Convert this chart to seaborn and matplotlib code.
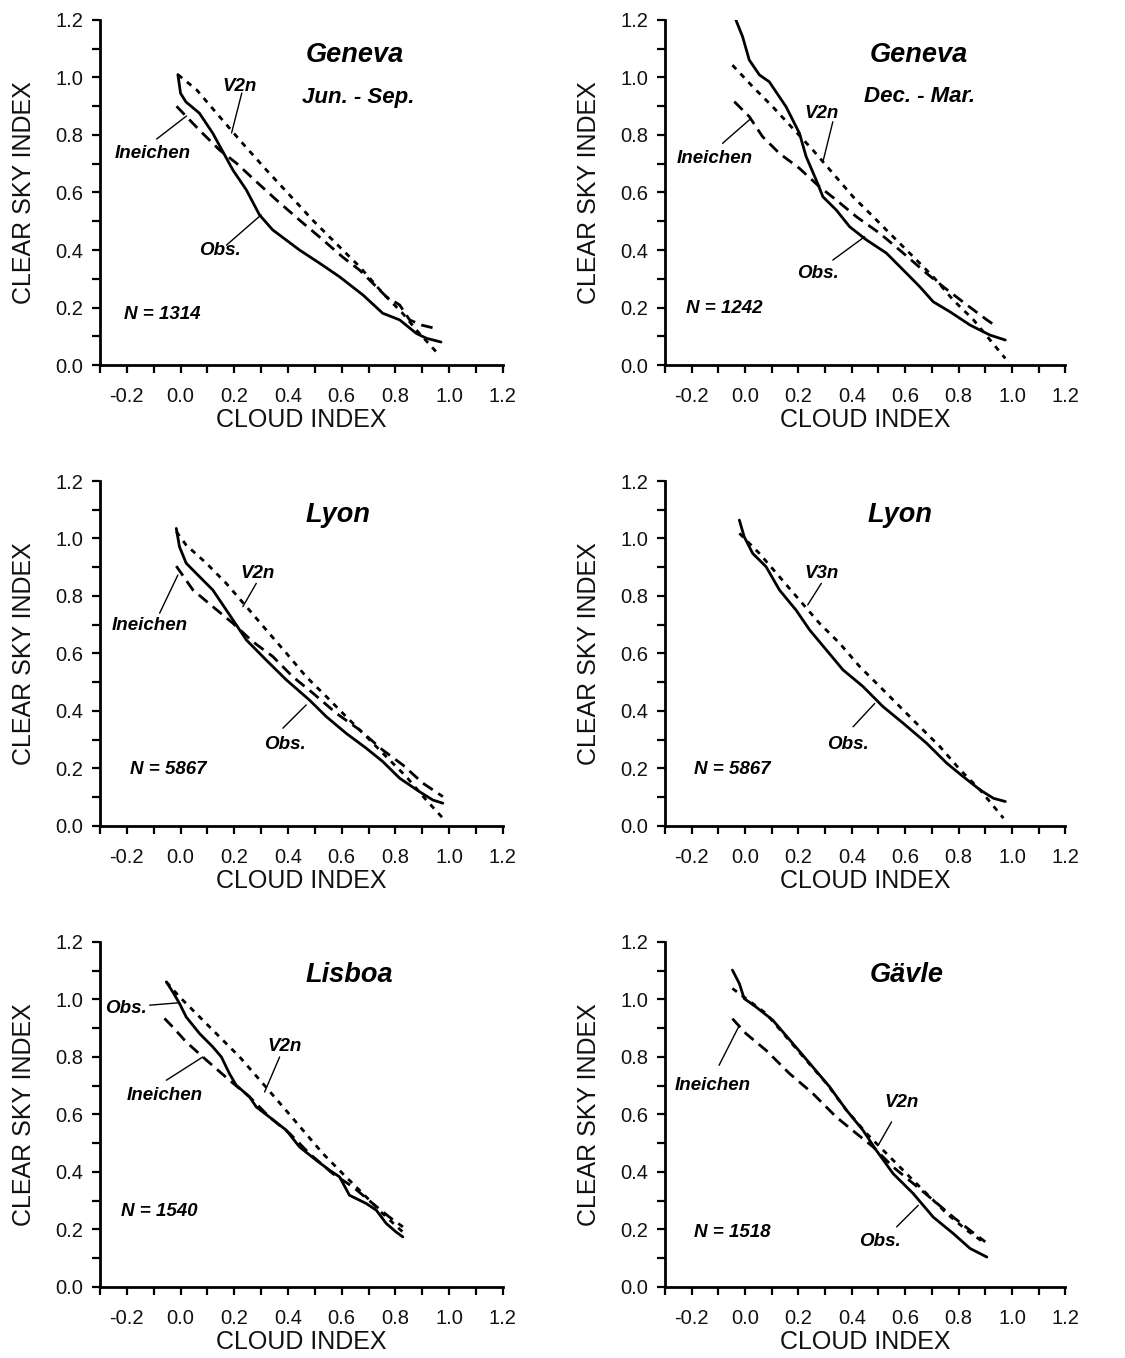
import numpy as np
import pandas as pd
import matplotlib
matplotlib.use("Agg")
import matplotlib.pyplot as plt
from matplotlib.ticker import MultipleLocator, FormatStrFormatter
import seaborn as sns

# ---------------- data ----------------
# Panel 1: Geneva Jun.-Sep.
gj_obs_x = [-0.01, 0.0, 0.02, 0.07, 0.12, 0.195, 0.245, 0.294, 0.343, 0.443, 0.518, 0.592, 0.68, 0.753, 0.816, 0.878, 0.916, 0.97]
gj_obs_y = [1.01, 0.945, 0.915, 0.876, 0.806, 0.678, 0.609, 0.522, 0.47, 0.40, 0.354, 0.307, 0.243, 0.18, 0.157, 0.11, 0.093, 0.08]
gj_ine_x = [-0.015, 0.07, 0.145, 0.208, 0.283, 0.357, 0.443, 0.518, 0.603, 0.667, 0.767, 0.816, 0.853, 0.897, 0.946]
gj_ine_y = [0.90, 0.817, 0.748, 0.702, 0.637, 0.574, 0.504, 0.445, 0.376, 0.33, 0.237, 0.209, 0.157, 0.139, 0.128]
gj_mod_x = [-0.01, 0.06, 0.145, 0.231, 0.32, 0.417, 0.492, 0.566, 0.667, 0.753, 0.827, 0.878, 0.953]
gj_mod_y = [1.01, 0.957, 0.864, 0.771, 0.678, 0.58, 0.504, 0.435, 0.342, 0.25, 0.18, 0.122, 0.045]

# Panel 2: Geneva Dec.-Mar.
gd_obs_x = [-0.034, -0.009, 0.016, 0.054, 0.091, 0.154, 0.204, 0.229, 0.267, 0.292, 0.342, 0.392, 0.455, 0.53, 0.605, 0.655, 0.705, 0.768, 0.843, 0.918, 0.975]
gd_obs_y = [1.20, 1.142, 1.061, 1.009, 0.985, 0.898, 0.806, 0.725, 0.643, 0.585, 0.539, 0.481, 0.435, 0.389, 0.319, 0.272, 0.22, 0.185, 0.139, 0.104, 0.087]
gd_ine_x = [-0.04, 0.016, 0.066, 0.129, 0.204, 0.279, 0.342, 0.417, 0.505, 0.593, 0.68, 0.743, 0.831, 0.906, 0.944]
gd_ine_y = [0.916, 0.864, 0.794, 0.736, 0.684, 0.62, 0.574, 0.516, 0.458, 0.389, 0.319, 0.272, 0.209, 0.157, 0.133]
gd_mod_x = [-0.047, 0.029, 0.104, 0.179, 0.254, 0.329, 0.405, 0.48, 0.555, 0.63, 0.705, 0.78, 0.856, 0.918, 0.975]
gd_mod_y = [1.043, 0.968, 0.898, 0.823, 0.748, 0.667, 0.585, 0.516, 0.446, 0.377, 0.307, 0.226, 0.157, 0.087, 0.023]

# Panel 3: Lyon (V2n)
l2_obs_x = [-0.016, -0.004, 0.021, 0.058, 0.12, 0.195, 0.245, 0.319, 0.394, 0.48, 0.543, 0.617, 0.692, 0.753, 0.816, 0.89, 0.94, 0.977]
l2_obs_y = [1.035, 0.971, 0.914, 0.879, 0.821, 0.717, 0.647, 0.577, 0.508, 0.438, 0.38, 0.322, 0.27, 0.224, 0.166, 0.119, 0.09, 0.079]
l2_ine_x = [-0.016, 0.046, 0.12, 0.195, 0.269, 0.344, 0.418, 0.493, 0.58, 0.667, 0.753, 0.828, 0.902, 0.977]
l2_ine_y = [0.904, 0.821, 0.763, 0.705, 0.641, 0.589, 0.519, 0.462, 0.392, 0.334, 0.264, 0.212, 0.149, 0.102]
l2_mod_x = [-0.016, 0.021, 0.096, 0.17, 0.245, 0.319, 0.394, 0.468, 0.543, 0.617, 0.692, 0.766, 0.841, 0.915, 0.977]
l2_mod_y = [1.024, 0.977, 0.914, 0.844, 0.763, 0.682, 0.601, 0.519, 0.45, 0.38, 0.311, 0.241, 0.171, 0.09, 0.027]

# Panel 4: Lyon (V3n)
l3_obs_x = [-0.021, -0.003, 0.029, 0.079, 0.129, 0.192, 0.242, 0.305, 0.367, 0.442, 0.517, 0.593, 0.68, 0.756, 0.818, 0.881, 0.931, 0.975]
l3_obs_y = [1.064, 1.006, 0.948, 0.902, 0.821, 0.75, 0.682, 0.612, 0.543, 0.485, 0.415, 0.357, 0.288, 0.218, 0.171, 0.125, 0.096, 0.085]
l3_mod_x = [-0.021, 0.054, 0.129, 0.204, 0.279, 0.355, 0.43, 0.505, 0.58, 0.655, 0.73, 0.806, 0.881, 0.968]
l3_mod_y = [1.018, 0.948, 0.867, 0.786, 0.705, 0.635, 0.554, 0.485, 0.415, 0.345, 0.276, 0.195, 0.125, 0.027]

# Panel 5: Lisboa
lb_obs_x = [-0.053, -0.029, -0.004, 0.021, 0.071, 0.12, 0.152, 0.182, 0.207, 0.257, 0.282, 0.331, 0.394, 0.443, 0.505, 0.555, 0.592, 0.629, 0.692, 0.729, 0.766, 0.803, 0.828]
lb_obs_y = [1.061, 1.026, 0.986, 0.939, 0.881, 0.835, 0.80, 0.742, 0.702, 0.661, 0.626, 0.591, 0.545, 0.487, 0.441, 0.406, 0.383, 0.319, 0.29, 0.267, 0.221, 0.191, 0.174]
lb_ine_x = [-0.06, -0.029, 0.021, 0.096, 0.182, 0.257, 0.331, 0.406, 0.48, 0.567, 0.642, 0.716, 0.778, 0.828]
lb_ine_y = [0.934, 0.904, 0.852, 0.789, 0.719, 0.661, 0.591, 0.534, 0.464, 0.394, 0.348, 0.29, 0.243, 0.209]
lb_mod_x = [-0.053, -0.004, 0.071, 0.145, 0.22, 0.307, 0.382, 0.456, 0.53, 0.604, 0.679, 0.753, 0.828]
lb_mod_y = [1.061, 1.009, 0.939, 0.87, 0.80, 0.707, 0.626, 0.545, 0.464, 0.394, 0.325, 0.255, 0.191]

# Panel 6: Gävle
gv_obs_x = [-0.047, -0.021, -0.003, 0.041, 0.104, 0.179, 0.254, 0.317, 0.38, 0.442, 0.492, 0.555, 0.63, 0.705, 0.78, 0.843, 0.906]
gv_obs_y = [1.102, 1.055, 1.003, 0.974, 0.928, 0.847, 0.765, 0.696, 0.615, 0.545, 0.475, 0.394, 0.325, 0.243, 0.186, 0.134, 0.104]
gv_ine_x = [-0.047, 0.004, 0.079, 0.167, 0.254, 0.342, 0.417, 0.48, 0.555, 0.63, 0.705, 0.78, 0.843, 0.90]
gv_ine_y = [0.933, 0.881, 0.823, 0.742, 0.673, 0.591, 0.534, 0.487, 0.417, 0.36, 0.302, 0.243, 0.197, 0.157]
gv_mod_x = [-0.047, 0.004, 0.079, 0.154, 0.229, 0.305, 0.38, 0.455, 0.53, 0.605, 0.68, 0.756, 0.831, 0.90]
gv_mod_y = [1.038, 1.003, 0.951, 0.87, 0.789, 0.708, 0.615, 0.534, 0.464, 0.394, 0.325, 0.255, 0.197, 0.151]

# text
stations = ["Geneva", "Geneva", "Lyon", "Lyon", "Lisboa", "Gävle"]
seasons = ["Jun. - Sep.", "Dec. - Mar.", None, None, None, None]
n_labels = ["N = 1314", "N = 1242", "N = 5867", "N = 5867", "N = 1540", "N = 1518"]
model_names = ["V2n", "V2n", "V2n", "V3n", "V2n", "V2n"]
x_label = "CLOUD INDEX"
y_label = "CLEAR SKY INDEX"

# ---------------- layout / styles ----------------
sns.set_theme(style="ticks")
plt.rcParams["font.family"] = ["Liberation Sans", "DejaVu Sans"]

fig = plt.figure(figsize=(11.25, 13.58), dpi=100)
col_lr = [(0.0889, 0.358), (0.591, 0.356)]
row_bh = [(0.7312, 0.2541), (0.3918, 0.2540), (0.0523, 0.2541)]

panels = [
    dict(obs=(gj_obs_x, gj_obs_y), ine=(gj_ine_x, gj_ine_y), mod=(gj_mod_x, gj_mod_y)),
    dict(obs=(gd_obs_x, gd_obs_y), ine=(gd_ine_x, gd_ine_y), mod=(gd_mod_x, gd_mod_y)),
    dict(obs=(l2_obs_x, l2_obs_y), ine=(l2_ine_x, l2_ine_y), mod=(l2_mod_x, l2_mod_y)),
    dict(obs=(l3_obs_x, l3_obs_y), ine=None, mod=(l3_mod_x, l3_mod_y)),
    dict(obs=(lb_obs_x, lb_obs_y), ine=(lb_ine_x, lb_ine_y), mod=(lb_mod_x, lb_mod_y)),
    dict(obs=(gv_obs_x, gv_obs_y), ine=(gv_ine_x, gv_ine_y), mod=(gv_mod_x, gv_mod_y)),
]

# label positions: (text xy, leader start, leader end)
title_pos = [(0.65, 1.078), (0.65, 1.078), (0.586, 1.082), (0.58, 1.082), (0.629, 1.084), (0.605, 1.084)]
season_pos = [(0.66, 0.932), (0.655, 0.933)]
n_pos = [(-0.067, 0.174), (-0.078, 0.197), (-0.047, 0.195), (-0.047, 0.195), (-0.078, 0.261), (-0.047, 0.191)]
mod_ann = [((0.22, 0.97), (0.228, 0.946), (0.19, 0.807)),
           ((0.286, 0.875), (0.329, 0.846), (0.292, 0.707)),
           ((0.288, 0.879), (0.282, 0.844), (0.232, 0.763)),
           ((0.286, 0.879), (0.286, 0.844), (0.235, 0.769)),
           ((0.387, 0.835), (0.369, 0.80), (0.313, 0.678)),
           ((0.586, 0.643), (0.549, 0.574), (0.499, 0.493))]
ine_ann = [((-0.104, 0.737), (-0.089, 0.786), (0.022, 0.866)),
           ((-0.115, 0.719), (-0.084, 0.771), (0.023, 0.858)),
           ((-0.115, 0.699), (-0.078, 0.74), (-0.01, 0.873)),
           None,
           ((-0.06, 0.667), (-0.053, 0.719), (0.083, 0.80)),
           ((-0.122, 0.701), (-0.097, 0.771), (-0.021, 0.91))]
obs_ann = [((0.145, 0.40), (0.171, 0.417), (0.30, 0.522)),
           ((0.273, 0.319), (0.329, 0.365), (0.448, 0.446)),
           ((0.387, 0.282), (0.381, 0.34), (0.468, 0.421)),
           ((0.386, 0.282), (0.405, 0.345), (0.486, 0.426)),
           ((-0.202, 0.968), (-0.115, 0.98), (-0.01, 0.988)),
           ((0.505, 0.157), (0.568, 0.209), (0.649, 0.284))]

LW = 2.0
bi = dict(fontweight="bold", fontstyle="italic", color="black")

for i, p in enumerate(panels):
    r, c = divmod(i, 2)
    left, w = col_lr[c]
    bottom, h = row_bh[r]
    ax = fig.add_axes([left, bottom, w, h])

    sns.lineplot(x=p["obs"][0], y=p["obs"][1], ax=ax, color="black", lw=LW,
                 estimator=None, sort=False, linestyle="-")
    if p["ine"] is not None:
        sns.lineplot(x=p["ine"][0], y=p["ine"][1], ax=ax, color="black", lw=LW,
                     estimator=None, sort=False, linestyle=(0, (4.2, 2.4)))
    sns.lineplot(x=p["mod"][0], y=p["mod"][1], ax=ax, color="black", lw=LW,
                 estimator=None, sort=False, linestyle=(0, (2.0, 2.2)))

    ax.set_xlim(-0.3, 1.2)
    ax.set_ylim(0.0, 1.2)
    ax.xaxis.set_major_locator(MultipleLocator(0.2, offset=0.0))
    ax.xaxis.set_minor_locator(MultipleLocator(0.1))
    ax.yaxis.set_major_locator(MultipleLocator(0.2))
    ax.yaxis.set_minor_locator(MultipleLocator(0.1))
    ax.xaxis.set_major_formatter(FormatStrFormatter("%.1f"))
    ax.yaxis.set_major_formatter(FormatStrFormatter("%.1f"))
    ax.tick_params(which="both", direction="out", length=6, width=1.6, color="black",
                   labelsize=14.5, labelcolor="#111111")
    ax.tick_params(axis="x", which="major", pad=10)
    ax.tick_params(axis="y", which="major", pad=6)
    sns.despine(ax=ax)
    for s in ("left", "bottom"):
        ax.spines[s].set_linewidth(2.0)
        ax.spines[s].set_color("black")
    ax.set_facecolor("white")
    ax.set_xlabel(x_label, fontsize=18, labelpad=1, color="#111111")
    ax.set_ylabel(y_label, fontsize=18, labelpad=14, color="#111111")

    ax.text(*title_pos[i], stations[i], fontsize=19.5, ha="center", va="center", **bi)
    if i < 2:
        ax.text(*season_pos[i], seasons[i], fontsize=16, ha="center", va="center", **bi)
    ax.text(*n_pos[i], n_labels[i], fontsize=13.5, ha="center", va="center", **bi)

    txy, s0, s1 = mod_ann[i]
    ax.text(*txy, model_names[i], fontsize=13.5, ha="center", va="center", **bi)
    ax.plot([s0[0], s1[0]], [s0[1], s1[1]], color="black", lw=1.0)
    if ine_ann[i] is not None:
        txy, s0, s1 = ine_ann[i]
        ax.text(*txy, "Ineichen", fontsize=13.5, ha="center", va="center", **bi)
        ax.plot([s0[0], s1[0]], [s0[1], s1[1]], color="black", lw=1.0)
    txy, s0, s1 = obs_ann[i]
    ax.text(*txy, "Obs.", fontsize=13.5, ha="center", va="center", **bi)
    ax.plot([s0[0], s1[0]], [s0[1], s1[1]], color="black", lw=1.0)

fig.savefig("out.png", dpi=100, facecolor="white")
